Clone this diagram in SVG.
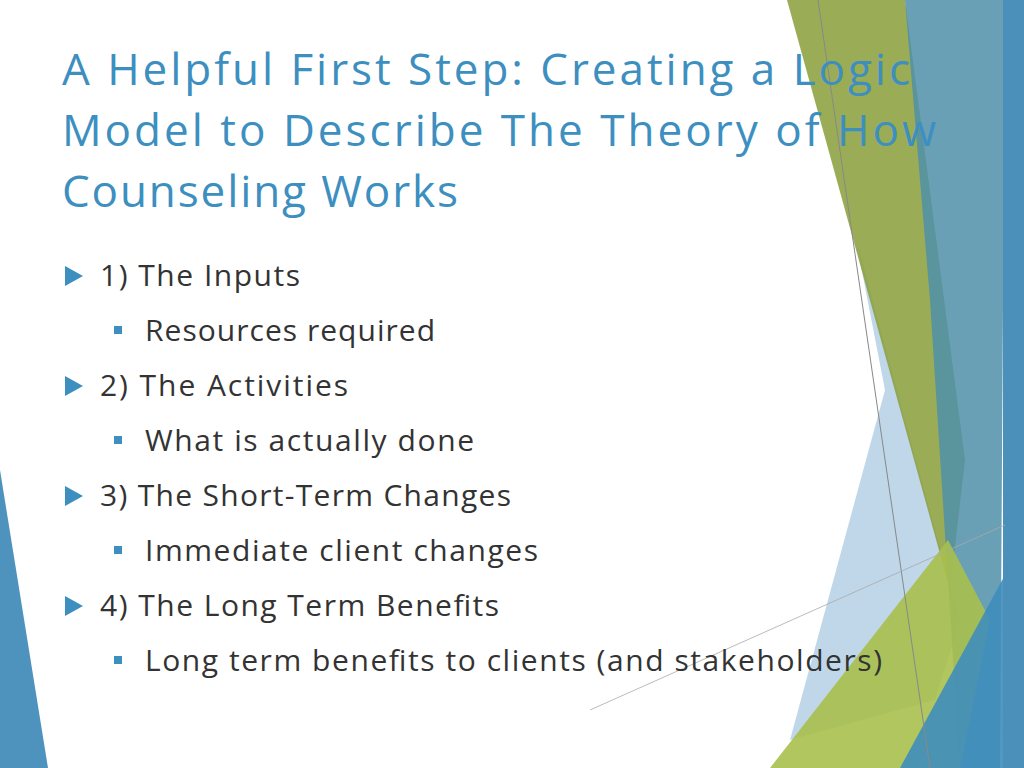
<svg xmlns="http://www.w3.org/2000/svg" width="1024" height="768" viewBox="0 0 1024 768">
<style>
.t{font-family:"Open Sans","DejaVu Sans",sans-serif;font-size:44px;fill:#3d8fc0}
.b{font-family:"Open Sans","DejaVu Sans",sans-serif;font-size:30px;fill:#333}
.tri{fill:#3d8fc0}.sq{fill:#3d8fc0}
</style>
<rect width="1024" height="768" fill="#fff"/>
<g id="decor">
<polygon points="0,470 48,768 0,768" fill="#4d93be"/>
<polygon points="855,235 905,420 960,620 935,700 790,740 885,390" fill="#a9c9e0" opacity="0.75"/>
<polygon points="787,0 905,0 965,460 950,590" fill="#8a9e3a" opacity="0.85"/>
<polygon points="905,0 1005,0 1000,768 960,768 930,300" fill="#4f8fa8" opacity="0.85"/>
<polygon points="770,768 948,540 990,620 960,768" fill="#a8c04c" opacity="0.9"/>
<polygon points="1024,540 1024,768 900,768" fill="#3f8dbb" opacity="0.9"/>
<rect x="1003" y="0" width="21" height="768" fill="#4a90ba"/>
<line x1="818" y1="0" x2="930" y2="768" stroke="#888" stroke-width="1"/>
<line x1="590" y1="710" x2="1005" y2="525" stroke="#aaa" stroke-width="0.8"/>
</g>
<g id="title">
<text class="t" x="62" y="85" textLength="848">A Helpful First Step: Creating a Logic</text>
<text class="t" x="62" y="146" textLength="874">Model to Describe The Theory  of How</text>
<text class="t" x="62" y="207" textLength="396">Counseling Works</text>
</g>
<g id="bullets">
<polygon class="tri" points="65,266 83,276 65,286"/>
<text class="b" x="100" y="286" textLength="200">1) The Inputs</text>
<rect class="sq" x="114" y="326" width="8" height="8"/>
<text class="b" x="145" y="341" textLength="290">Resources required</text>
<polygon class="tri" points="65,376 83,386 65,396"/>
<text class="b" x="100" y="396" textLength="248">2) The Activities</text>
<rect class="sq" x="114" y="436" width="8" height="8"/>
<text class="b" x="145" y="451" textLength="329">What is actually done</text>
<polygon class="tri" points="65,486 83,496 65,506"/>
<text class="b" x="100" y="506" textLength="411">3) The Short-Term Changes</text>
<rect class="sq" x="114" y="546" width="8" height="8"/>
<text class="b" x="145" y="561" textLength="393">Immediate client changes</text>
<polygon class="tri" points="65,596 83,606 65,616"/>
<text class="b" x="100" y="616" textLength="399">4) The Long Term Benefits</text>
<rect class="sq" x="114" y="656" width="8" height="8"/>
<text class="b" x="145" y="671" textLength="737">Long term benefits to clients (and stakeholders)</text>
</g>
</svg>
